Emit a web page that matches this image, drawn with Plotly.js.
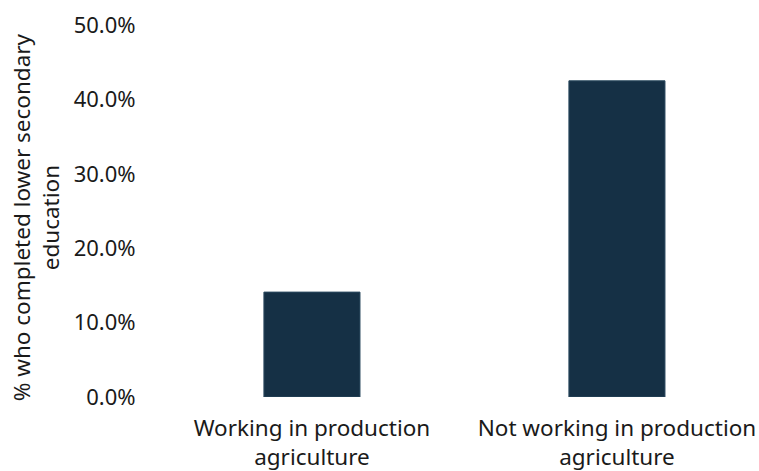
<!DOCTYPE html>
<html>
<head>
<meta charset="utf-8">
<script src="https://cdn.plot.ly/plotly-3.0.1.min.js"></script>
<style>html,body{margin:0;padding:0;background:#fff;}#chart{width:759px;height:471px;}</style>
</head>
<body>
<div id="chart"></div>
<script>
const categories = ["Working in production<br>agriculture", "Not working in production<br>agriculture"];
const values = [14.1, 42.5];
const yTickVals = [0, 10, 20, 30, 40, 50];
const yTickText = yTickVals.map(v => v.toFixed(1) + "%");
const yTitle = "% who completed lower secondary<br>education";

const trace = {
  type: "bar",
  x: categories,
  y: values,
  width: 0.315,
  marker: { color: "#153045", line: { color: "#2c4a60", width: 1 } },
  hoverinfo: "none"
};

const layout = {
  width: 759,
  height: 471,
  margin: { l: 150, r: 10, t: 25, b: 74 },
  paper_bgcolor: "#ffffff",
  plot_bgcolor: "#ffffff",
  showlegend: false,
  font: { family: "Noto Sans, sans-serif", size: 22, color: "#1a1a1a" },
  xaxis: {
    type: "category",
    range: [-0.531, 1.433],
    showgrid: false,
    zeroline: false,
    showline: false,
    ticks: "",
    ticklabelstandoff: 15,
    tickfont: { size: 22.5, color: "#1a1a1a" }
  },
  yaxis: {
    range: [0, 50],
    tickvals: yTickVals,
    ticktext: yTickText,
    showgrid: false,
    zeroline: false,
    showline: false,
    ticks: "outside",
    ticklen: 9,
    tickcolor: "rgba(0,0,0,0)",
    tickfont: { size: 22, color: "#1a1a1a" }
  },
  annotations: [{
    text: yTitle,
    textangle: -90,
    xref: "paper", yref: "paper",
    x: -0.191, y: 0.482,
    xanchor: "center", yanchor: "middle",
    align: "center",
    showarrow: false,
    font: { size: 22.5, color: "#1a1a1a" }
  }]
};

Plotly.newPlot("chart", [trace], layout, { displayModeBar: false, staticPlot: true });
</script>
</body>
</html>
